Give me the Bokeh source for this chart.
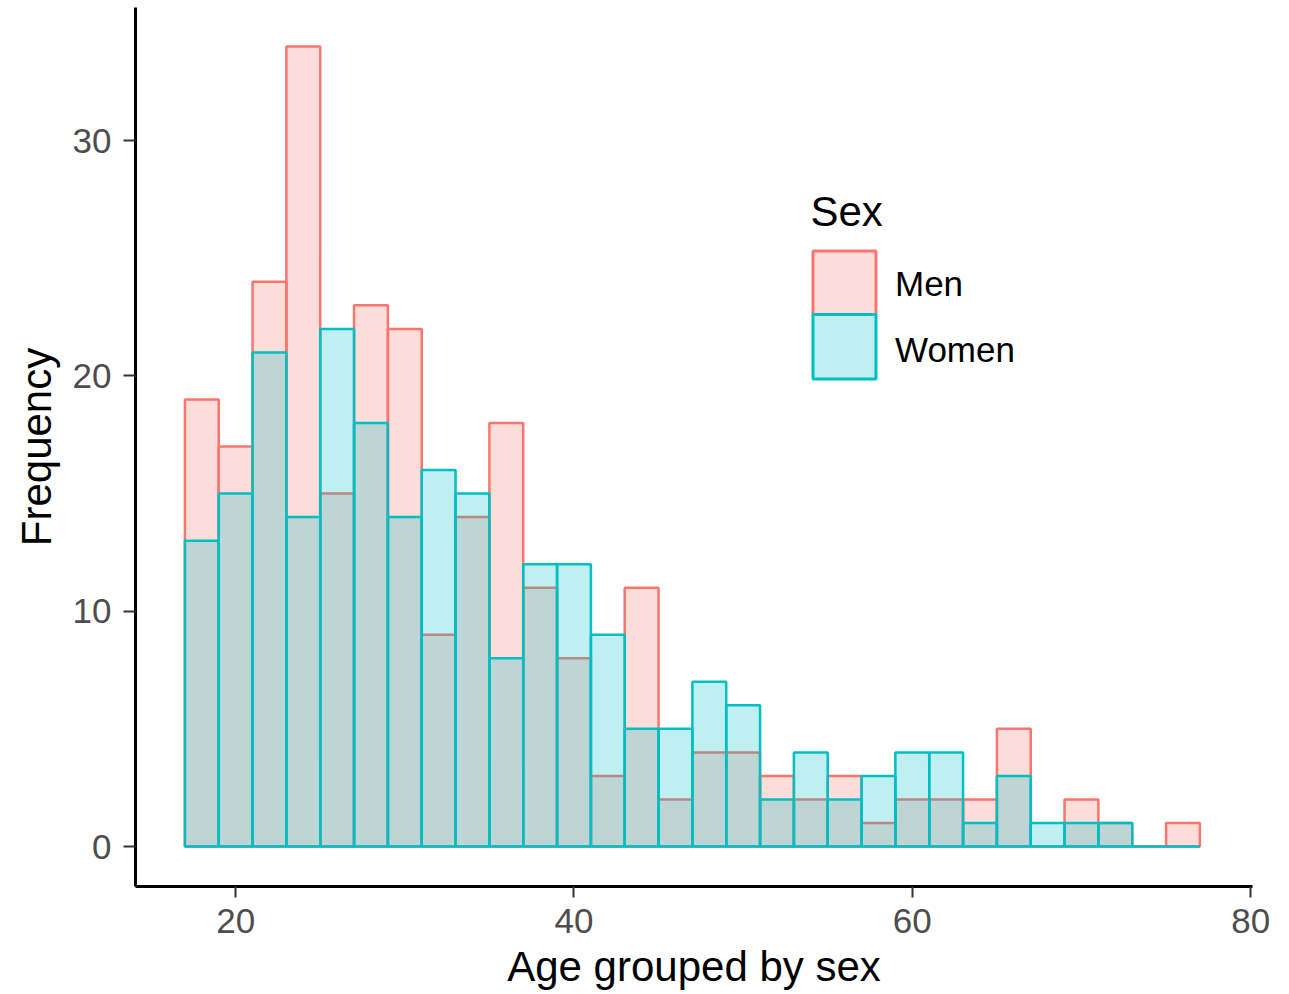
from bokeh.plotting import figure
from bokeh.models import ColumnDataSource, FixedTicker, Range1d, Label, BoxAnnotation
from bokeh.embed import file_html
from bokeh.resources import INLINE

# ---- data (histogram of age, 2-year bins) ----
bin_start = [17, 19, 21, 23, 25, 27, 29, 31, 33, 35, 37, 39, 41, 43, 45,
             47, 49, 51, 53, 55, 57, 59, 61, 63, 65, 67, 69, 71, 73, 75]
bin_end = [19, 21, 23, 25, 27, 29, 31, 33, 35, 37, 39, 41, 43, 45, 47,
           49, 51, 53, 55, 57, 59, 61, 63, 65, 67, 69, 71, 73, 75, 77]
men = [19, 17, 24, 34, 15, 23, 22, 9, 14, 18, 11, 8, 3, 11, 2,
       4, 4, 3, 2, 3, 1, 2, 2, 2, 5, 0, 2, 1, 0, 1]
women = [13, 15, 21, 14, 22, 18, 14, 16, 15, 8, 12, 12, 9, 5, 5,
         7, 6, 2, 4, 2, 3, 4, 4, 1, 3, 1, 1, 1, 0, 0]
x_ticks = [20, 40, 60, 80]
y_ticks = [0, 10, 20, 30]
groups = ["Men", "Women"]
group_colors = ["#F8766D", "#00BFC4"]
legend_title = "Sex"
x_title = "Age grouped by sex"
y_title = "Frequency"
FONT = "Liberation Sans"

men_src = ColumnDataSource(dict(left=bin_start, right=bin_end, top=men, bottom=[0] * len(men)))
women_src = ColumnDataSource(dict(left=bin_start, right=bin_end, top=women, bottom=[0] * len(women)))

p = figure(width=1289, height=994, output_backend="svg", toolbar_location=None,
           x_range=Range1d(14.08, 80.11), y_range=Range1d(-1.7, 35.66),
           min_border_left=135, min_border_right=37, min_border_top=7, min_border_bottom=108)
p.background_fill_color = "white"
p.border_fill_color = "white"
p.outline_line_color = None
p.grid.visible = False

for src, col in zip([men_src, women_src], group_colors):
    p.quad(left="left", right="right", top="top", bottom="bottom", source=src,
           fill_color=col, fill_alpha=0.25, line_color=col, line_width=2.5)

for ax in (p.xaxis[0], p.yaxis[0]):
    ax.axis_line_color = "black"
    ax.axis_line_width = 3
    ax.major_tick_line_color = "#333333"
    ax.major_tick_line_width = 2
    ax.major_tick_in = 0
    ax.minor_tick_line_color = None
    ax.major_label_text_font = FONT
    ax.major_label_text_font_size = "35px"
    ax.major_label_text_color = "#4d4d4d"
    ax.axis_label_text_font = FONT
    ax.axis_label_text_font_size = "42px"
    ax.axis_label_text_font_style = "normal"
    ax.axis_label_text_color = "black"

p.xaxis.ticker = FixedTicker(ticks=x_ticks)
p.yaxis.ticker = FixedTicker(ticks=y_ticks)
p.xaxis.major_tick_out = 11
p.yaxis.major_tick_out = 12
p.xaxis.major_label_standoff = 11
p.yaxis.major_label_standoff = 12
p.xaxis.axis_label = x_title
p.xaxis.axis_label_standoff = 7
p.yaxis.axis_label = y_title
p.yaxis.axis_label_standoff = 10
p.yaxis.major_label_orientation = "horizontal"

# ---- legend (keys drawn as screen-space boxes inside the plot frame) ----
p.add_layout(Label(x=675, y=675, x_units="screen", y_units="screen", text=legend_title,
                   text_align="left", text_baseline="alphabetic",
                   text_font=FONT, text_font_size="42px", text_color="black"))
key_tops = [635.5, 572]
key_bottoms = [572, 507.5]
label_y = [603, 537]
for name, col, kt, kb, ly in zip(groups, group_colors, key_tops, key_bottoms, label_y):
    p.add_layout(BoxAnnotation(left=677.5, right=740.5, top=kt, bottom=kb,
                               left_units="screen", right_units="screen",
                               top_units="screen", bottom_units="screen",
                               fill_color=col, fill_alpha=0.25,
                               line_color=col, line_width=3, line_alpha=1.0))
    p.add_layout(Label(x=759.5, y=ly, x_units="screen", y_units="screen", text=name,
                       text_align="left", text_baseline="alphabetic",
                       text_font=FONT, text_font_size="35px", text_color="black"))

open("out.html", "w").write(file_html(p, INLINE))
